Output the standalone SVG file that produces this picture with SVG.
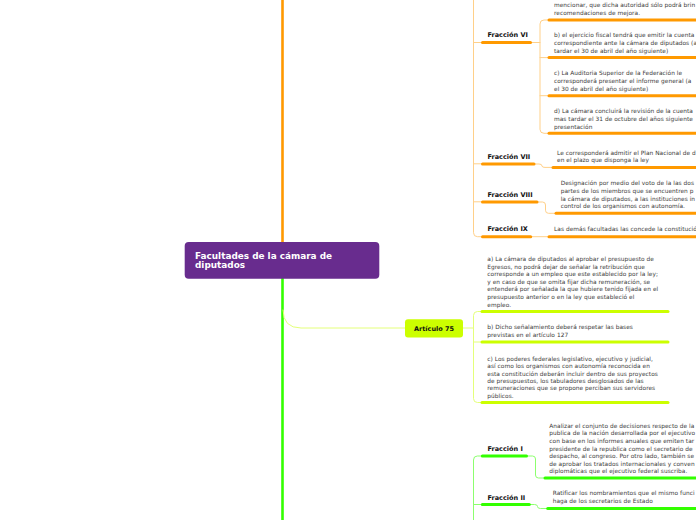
<svg xmlns="http://www.w3.org/2000/svg" width="696" height="520" viewBox="0 0 696 520">
<style>
.t{font-family:"DejaVu Sans","Verdana",sans-serif;font-size:5.85px;letter-spacing:0.04px;fill:#3a3a3a}
.h{font-family:"DejaVu Sans","Verdana",sans-serif;font-size:6.5px;font-weight:bold;fill:#111}
.root{font-family:"DejaVu Sans","Verdana",sans-serif;font-size:8.9px;font-weight:bold;fill:#fff}
.c{fill:none;stroke-linecap:round;stroke-linejoin:round}
.or{stroke:#ffd089;stroke-width:1}
.orM{stroke:#ff9900;stroke-width:2.6}
.orU{stroke:#ff9900;stroke-width:3}
.gr{stroke:#8cff6e;stroke-width:1}
.grM{stroke:#33ff00;stroke-width:2.6}
.grU{stroke:#33ff00;stroke-width:3}
.li{stroke:#e4ff7a;stroke-width:1}
.liU{stroke:#ccff00;stroke-width:3}
</style>
<g id="connectors">
<path class="c orM" d="M282.5,-2 L282.5,243"/>
<path class="c grM" d="M282.5,277 L282.5,522"/>
<path class="c li" d="M283,310 Q283,328 301,328 L405,328"/>
<path class="c li" d="M463,328 L473.5,328"/>
<path class="c li" d="M482,311.5 L477.5,311.5 Q473.5,311.5 473.5,315.5 L473.5,398.5 Q473.5,402.5 477.5,402.5 L482,402.5 M473.5,342 L482,342"/>
<path class="c or" d="M473.5,-2 L473.5,232.7 Q473.5,236.7 477.5,236.7 L482.5,236.7 M473.5,42.5 L482.5,42.5 M473.5,163.8 L482.5,163.8 M473.5,201.8 L482.5,201.8"/>
<path class="c or" d="M530.5,42.5 L540,42.5 M549,20 L544,20 Q540,20 540,24 L540,129.3 Q540,133.3 544,133.3 L549,133.3 M540,57.6 L549,57.6 M540,95.7 L549,95.7"/>
<path class="c or" d="M534,164 L539,164 Q542,164 542,166 Q542,167.4 545,167.4 L553,167.4"/>
<path class="c or" d="M537,202 L542.5,202 Q545.5,202 545.5,205 L545.5,210.3 Q545.5,213.3 548.5,213.3 L556,213.3"/>
<path class="c or" d="M530.7,236.7 L549,236.7"/>
<path class="c gr" d="M482.3,456 L477.3,456 Q473.5,456 473.5,460 L473.5,522 M473.5,504.5 L482.3,504.5"/>
<path class="c gr" d="M526.5,456 L532.5,456 Q535.5,456 535.5,459 L535.5,475 Q535.5,478 538.5,478 L545,478"/>
<path class="c gr" d="M529.3,504.5 L534.5,504.5 Q537.5,504.5 537.5,506.5 Q537.5,508.5 540.5,508.5 L547.7,508.5"/>
</g>
<g id="root">
<rect x="184.7" y="242" width="194.6" height="36.7" rx="4" fill="#682c8e"/>
<text class="root" x="195" y="258.8">Facultades de la cámara de</text>
<text class="root" x="195" y="268.3">diputados</text>
</g>
<g id="fraccion-vi">
<text class="h" x="487.5" y="37.3">Fracción VI</text>
<path class="c orU" d="M482.5,42.5 L530.5,42.5"/>
</g>
<g id="fraccion-vi-a">
<text class="t" x="554" y="7">mencionar, que dicha autoridad sólo podrá brin</text>
<text class="t" x="554" y="15">recomendaciones de mejora.</text>
<path class="c orU" d="M549,20 L700,20"/>
</g>
<g id="fraccion-vi-b">
<text class="t" x="554" y="36.5">b) el ejercicio fiscal tendrá que emitir la cuenta</text>
<text class="t" x="554" y="44.5">correspondiente ante la cámara de diputados (a</text>
<text class="t" x="554" y="52.5">tardar el 30 de abril del año siguiente)</text>
<path class="c orU" d="M549,57.6 L700,57.6"/>
</g>
<g id="fraccion-vi-c">
<text class="t" x="554" y="74.7">c) La Auditoria Superior de la Federación le</text>
<text class="t" x="554" y="82.7">corresponderá presentar el informe general (a</text>
<text class="t" x="554" y="90.7">el 30 de abril del año siguiente)</text>
<path class="c orU" d="M549,95.7 L700,95.7"/>
</g>
<g id="fraccion-vi-d">
<text class="t" x="554" y="113">d) La cámara concluirá la revisión de la cuenta</text>
<text class="t" x="554" y="121">mas tardar el 31 de octubre del años siguiente</text>
<text class="t" x="554" y="129">presentación</text>
<path class="c orU" d="M549,133.3 L700,133.3"/>
</g>
<g id="fraccion-vii">
<text class="h" x="487.5" y="158.5">Fracción VII</text>
<path class="c orU" d="M482.5,164 L534,164"/>
</g>
<g id="fraccion-vii-a">
<text class="t" x="557" y="154.6">Le corresponderá admitir el Plan Nacional de d</text>
<text class="t" x="557" y="162.3">en el plazo que disponga la ley</text>
<path class="c orU" d="M553,167.4 L700,167.4"/>
</g>
<g id="fraccion-viii">
<text class="h" x="487.5" y="196.6">Fracción VIII</text>
<path class="c orU" d="M482.5,202 L537,202"/>
</g>
<g id="fraccion-viii-a">
<text class="t" x="560.7" y="184.7">Designación por medio del voto de la las dos</text>
<text class="t" x="560.7" y="192.6">partes de los miembros que se encuentren p</text>
<text class="t" x="560.7" y="200.5">la cámara de diputados, a las instituciones in</text>
<text class="t" x="560.7" y="208.3">control de los organismos con autonomía.</text>
<path class="c orU" d="M556,213.3 L700,213.3"/>
</g>
<g id="fraccion-ix">
<text class="h" x="487.5" y="231">Fracción IX</text>
<path class="c orU" d="M482.5,236.7 L530.7,236.7"/>
</g>
<g id="fraccion-ix-a">
<text class="t" x="554" y="231.2">Las demás facultadas las concede la constitució</text>
<path class="c orU" d="M549,236.7 L700,236.7"/>
</g>
<g id="articulo-75">
<rect x="405" y="319.2" width="58" height="18.2" rx="3" fill="#ccff00"/>
<text class="h" x="434" y="330.8" text-anchor="middle">Artículo 75</text>
</g>
<g id="articulo-75-a">
<text class="t" x="487.3" y="261">a) La cámara de diputados al aprobar el presupuesto de</text>
<text class="t" x="487.3" y="268.6">Egresos, no podrá dejar de señalar la retribución que</text>
<text class="t" x="487.3" y="276.2">corresponde a un empleo que este establecido por la ley;</text>
<text class="t" x="487.3" y="283.8">y en caso de que se omita fijar dicha remuneración, se</text>
<text class="t" x="487.3" y="291.4">entenderá por señalada la que hubiere tenido fijada en el</text>
<text class="t" x="487.3" y="299">presupuesto anterior o en la ley que estableció el</text>
<text class="t" x="487.3" y="306.5">empleo.</text>
<path class="c liU" d="M482,311.5 L668,311.5"/>
</g>
<g id="articulo-75-b">
<text class="t" x="487.3" y="329.3">b) Dicho señalamiento deberá respetar las bases</text>
<text class="t" x="487.3" y="337">previstas en el artículo 127</text>
<path class="c liU" d="M482,342 L668,342"/>
</g>
<g id="articulo-75-c">
<text class="t" x="487.3" y="360.7">c) Los poderes federales legislativo, ejecutivo y judicial,</text>
<text class="t" x="487.3" y="368.1">así como los organismos con autonomía reconocida en</text>
<text class="t" x="487.3" y="375.5">esta constitución deberán incluir dentro de sus proyectos</text>
<text class="t" x="487.3" y="382.9">de presupuestos, los tabuladores desglosados de las</text>
<text class="t" x="487.3" y="390.3">remuneraciones que se propone perciban sus servidores</text>
<text class="t" x="487.3" y="397.6">públicos.</text>
<path class="c liU" d="M482,402.5 L668,402.5"/>
</g>
<g id="fraccion-i">
<text class="h" x="487.5" y="450.6">Fracción I</text>
<path class="c grU" d="M482.3,456 L526.5,456"/>
</g>
<g id="fraccion-i-a">
<text class="t" x="549.3" y="427.7">Analizar el conjunto de decisiones respecto de la</text>
<text class="t" x="549.3" y="435.3">publica de la nación desarrollada por el ejecutivo</text>
<text class="t" x="549.3" y="442.9">con base en los informes anuales que emiten tar</text>
<text class="t" x="549.3" y="450.5">presidente de la republica como el secretario de</text>
<text class="t" x="549.3" y="458.1">despacho, al congreso. Por otro lado, también se</text>
<text class="t" x="549.3" y="465.7">de aprobar los tratados internacionales y conven</text>
<text class="t" x="549.3" y="473.3">diplomáticas que el ejecutivo federal suscriba.</text>
<path class="c grU" d="M545,478 L700,478"/>
</g>
<g id="fraccion-ii">
<text class="h" x="487.5" y="499.6">Fracción II</text>
<path class="c grU" d="M482.3,504.5 L529.3,504.5"/>
</g>
<g id="fraccion-ii-a">
<text class="t" x="552.7" y="495.2">Ratificar los nombramientos que el mismo funci</text>
<text class="t" x="552.7" y="502.5">haga de los secretarios de Estado</text>
<path class="c grU" d="M547.7,508.5 L700,508.5"/>
</g>
</svg>
